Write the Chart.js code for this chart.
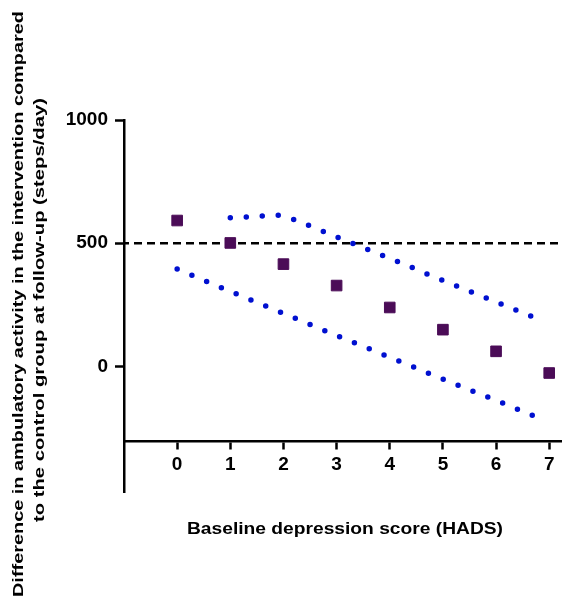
<!DOCTYPE html>
<html>
<head>
<meta charset="utf-8">
<script src="https://cdn.jsdelivr.net/npm/chart.js@4.4.1/dist/chart.umd.min.js"></script>
<style>
  html, body { margin: 0; background: #fff; overflow: hidden; }
  /* a little wider than the window so the plot area reaches the right edge */
  #wrap { width: 571px; height: 598px; }
</style>
</head>
<body>
<div id="wrap"><canvas id="myChart"></canvas></div>
<script>
// values
const depressionScores = [0, 1, 2, 3, 4, 5, 6, 7];
const meanDifference = [592, 501, 415, 328, 239, 149, 61, -27];

const upperX = [1, 1.3, 1.6, 1.9, 2.2, 2.5, 3.06, 3.63, 4.2, 4.76, 5.33, 5.89, 6.46, 6.8];
const upperY = [603, 606, 610, 613, 596, 570, 520, 470, 421, 370, 320, 271, 221, 191];

const lowerX = [0, 1, 2, 3, 4, 5, 6, 6.8];
const lowerY = [395, 304, 215, 125, 37, -52, -138, -209];

const refX = [-1, 7.25];
const refY = [500, 500];

const xTicks = [0, 1, 2, 3, 4, 5, 6, 7];
const yTicks = [1000, 500, 0];

const xTitle = 'Baseline depression score (HADS)';
const yTitle = ['Difference in ambulatory activity in the intervention compared',
                'to the control group at follow-up (steps/day)'];

function pts(xs, ys) {
    return xs.map(function (x, i) { return { x: x, y: ys[i] }; });
}

// text in the figure is a bit stretched along its direction, so fit each title to its length
function stretchedText(ctx, text, cx, cy, angle, size, length) {
    ctx.save();
    ctx.fillStyle = '#000';
    ctx.font = 'bold ' + size + 'px "Liberation Sans", Arial, sans-serif';
    ctx.textAlign = 'center';
    ctx.textBaseline = 'alphabetic';
    ctx.translate(cx, cy);
    ctx.rotate(angle);
    ctx.scale(length / ctx.measureText(text).width, 1);
    ctx.fillText(text, 0, 0);
    ctx.restore();
}

const titlePlugin = {
    id: 'titles',
    afterDraw: function (chart) {
        const ctx = chart.ctx;
        stretchedText(ctx, xTitle, 345, 534, 0, 16, 316);
        stretchedText(ctx, yTitle[0], 22.5, 304, -Math.PI / 2, 15, 586);
        stretchedText(ctx, yTitle[1], 44, 310, -Math.PI / 2, 15, 424);
    }
};

const tickFont = { family: '"Liberation Sans", Arial, sans-serif', size: 19, weight: 'bold' };

const ctx = document.getElementById('myChart').getContext('2d');
const myChart = new Chart(ctx, {
    type: 'scatter',
    data: {
        datasets: [{
            data: pts(depressionScores, meanDifference),
            pointStyle: 'rect',
            pointRadius: 7.5,
            backgroundColor: '#4b0c57',
            borderColor: '#4b0c57',
            borderWidth: 1,
            showLine: false
        }, {
            data: pts(upperX, upperY),
            showLine: true,
            pointRadius: 0,
            borderColor: '#0010d0',
            borderWidth: 5.5,
            borderDash: [0, 16],
            borderCapStyle: 'round',
            cubicInterpolationMode: 'monotone'
        }, {
            data: pts(lowerX, lowerY),
            showLine: true,
            pointRadius: 0,
            borderColor: '#0010d0',
            borderWidth: 5.5,
            borderDash: [0, 16],
            borderCapStyle: 'round'
        }, {
            data: pts(refX, refY),
            showLine: true,
            pointRadius: 0,
            borderColor: '#000',
            borderWidth: 2.5,
            borderDash: [8, 5],
            borderDashOffset: -10
        }]
    },
    options: {
        responsive: true,
        maintainAspectRatio: false,
        animation: false,
        layout: {
            padding: { top: 120, bottom: 106, left: 0, right: 0 }
        },
        plugins: {
            legend: { display: false },
            tooltip: { enabled: false }
        },
        scales: {
            x: {
                type: 'linear',
                min: -1,
                max: 7.25,
                position: { y: -305 },
                afterBuildTicks: function (scale) {
                    scale.ticks = xTicks.map(function (v) { return { value: v }; });
                },
                border: { display: true, color: '#000', width: 2.5 },
                grid: {
                    drawOnChartArea: false,
                    drawTicks: true,
                    tickLength: 7,
                    tickWidth: 2.5,
                    tickColor: '#000'
                },
                ticks: {
                    color: '#000',
                    font: tickFont,
                    padding: 5,
                    maxRotation: 0
                }
            },
            y: {
                type: 'linear',
                min: -510,
                max: 1000,
                afterBuildTicks: function (scale) {
                    scale.ticks = yTicks.map(function (v) { return { value: v }; });
                },
                afterFit: function (scale) {
                    scale.width = 124;
                },
                border: { display: true, color: '#000', width: 2.5 },
                grid: {
                    drawOnChartArea: false,
                    drawTicks: true,
                    tickLength: 9,
                    tickWidth: 2.5,
                    tickColor: '#000'
                },
                ticks: {
                    color: '#000',
                    font: tickFont,
                    padding: 7,
                    callback: function (v) { return String(v); }
                }
            }
        }
    },
    plugins: [titlePlugin]
});
</script>
</body>
</html>
